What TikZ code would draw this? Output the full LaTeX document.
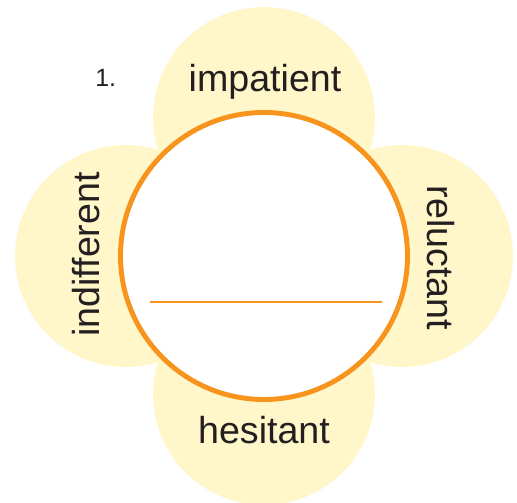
\documentclass[tikz,border=0pt]{standalone}
\usepackage{fontspec}
\setmainfont{Liberation Sans}
\usepackage{xcolor}
\usetikzlibrary{positioning}
\definecolor{petal}{HTML}{FFF7C9}
\definecolor{rim}{HTML}{F7941D}
\definecolor{ink}{HTML}{231F20}

\begin{document}
\begin{tikzpicture}[
  word/.style={text=ink, font=\fontsize{21.4}{24}\selectfont, inner sep=0pt, anchor=base}
]
\useasboundingbox (-5.28,-4.92) rectangle (5.06,5.12);
\def\d{2.76}
\def\r{2.22}
% four petals behind the ring
\foreach \p in {(0,\d),(-\d,0),(\d,0),(0,-\d)}{
  \fill[petal] \p circle (\r);
}
\node[circle, draw=rim, fill=white, line width=2.8pt, minimum size=5.74cm, inner sep=0pt] (hub) at (0,0) {};
\node[word] (top) at (0.02,3.3) {impatient};
\node[word] (bottom) at (0,-3.74) {hesitant};
\node[word, rotate=90] (left) at (-3.28,0.03) {indifferent};
\node[word, rotate=-90] (right) at (3.26,-0.04) {reluctant};
\node[text=ink, font=\fontsize{14.2}{16}\selectfont, inner sep=0pt, anchor=base west] (num) at (-3.38,3.4) {1.};
% answer line
\coordinate (lineL) at (-2.28,-0.92);
\coordinate (lineR) at (2.36,-0.92);
\draw[rim, line width=1.1pt] (lineL) -- (lineR);
\end{tikzpicture}
\end{document}
